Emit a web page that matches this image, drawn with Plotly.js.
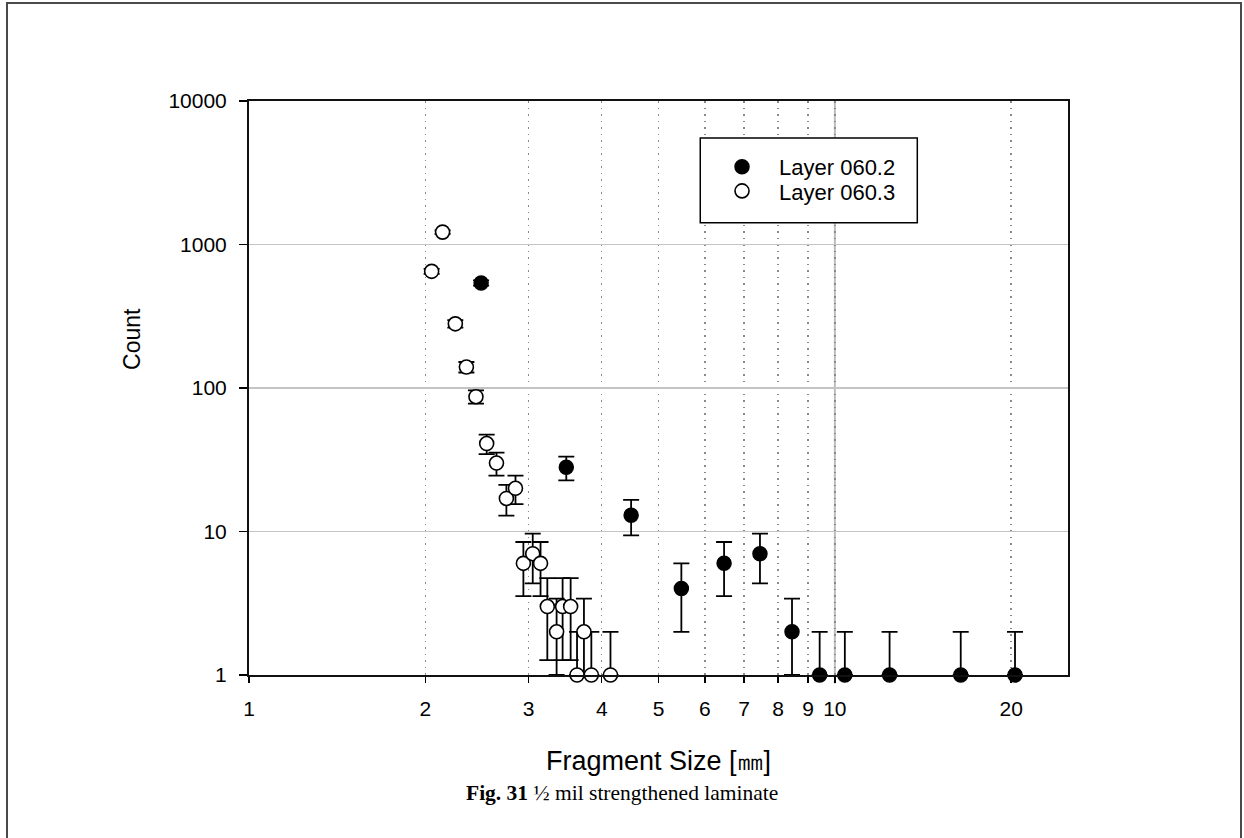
<!DOCTYPE html>
<html>
<head>
<meta charset="utf-8">
<script src="https://cdn.plot.ly/plotly-3.0.1.min.js"></script>
<style>
  html, body { margin: 0; padding: 0; background: #fff; }
  #wrap { position: relative; width: 1244px; height: 838px; }
  #chart { width: 1244px; height: 838px; }
  #frame { position: absolute; left: 6px; top: 2px; width: 1236px; height: 840px;
           border: 2px solid #4a4a4a; box-sizing: border-box; pointer-events: none; }
</style>
</head>
<body>
<div id="wrap">
  <div id="chart"></div>
  <div id="frame"></div>
</div>
<script>
// Layer 060.2 (filled circles)
const size_0602  = [2.49, 3.48, 4.49, 5.47, 6.47, 7.45, 8.45, 9.42, 10.4, 12.4, 16.4, 20.3];
const count_0602 = [540, 28, 13, 4, 6, 7, 2, 1, 1, 1, 1, 1];
const errUp_0602 = [23, 5.3, 3.6, 2, 2.45, 2.65, 1.41, 1, 1, 1, 1, 1];
const errDn_0602 = [23, 5.3, 3.6, 2, 2.45, 2.65, 1, 0, 0, 0, 0, 0];

// Layer 060.3 (open circles)
const size_0603  = [2.05, 2.14, 2.25, 2.35, 2.44, 2.545, 2.645, 2.75, 2.85, 2.94, 3.05, 3.145, 3.23, 3.35, 3.43, 3.54, 3.63, 3.73, 3.84, 4.14];
const count_0603 = [650, 1220, 280, 140, 87, 41, 30, 17, 20, 6, 7, 6, 3, 2, 3, 3, 1, 2, 1, 1];
const errUp_0603 = [25.5, 34.9, 16.7, 11.8, 9.3, 6.4, 5.5, 4.1, 4.5, 2.45, 2.65, 2.45, 1.73, 1.41, 1.73, 1.73, 1, 1.41, 1, 1];
const errDn_0603 = [25.5, 34.9, 16.7, 11.8, 9.3, 6.4, 5.5, 4.1, 4.5, 2.45, 2.65, 2.45, 1.73, 1, 1.73, 1.73, 0, 1, 0, 0];

// Axis ticks
const xTickVals = [1, 2, 3, 4, 5, 6, 7, 8, 9, 10, 20];
const xTickText = ['1', '2', '3', '4', '5', '6', '7', '8', '9', '10', '20'];
const yTickVals = [1, 10, 100, 1000, 10000];
const yTickText = ['1', '10', '100', '1000', '10000'];

const names = ['Layer 060.2', 'Layer 060.3'];
const xTitle = 'Fragment Size [㎜]';
const yTitle = 'Count';
const caption = '<b>Fig. 31</b> ½ mil strengthened laminate';

const FONT = 'Liberation Sans, Arial, sans-serif';

const traces = [
  {
    x: size_0602, y: count_0602, name: names[0], type: 'scatter', mode: 'markers',
    cliponaxis: false, legend: 'legend',
    marker: { symbol: 'circle', size: 14, color: '#000', line: { color: '#000', width: 1.5 } },
    error_y: { type: 'data', symmetric: false, array: errUp_0602, arrayminus: errDn_0602,
               color: '#000', thickness: 1.8, width: 8 }
  },
  {
    x: size_0603, y: count_0603, name: names[1], type: 'scatter', mode: 'markers',
    cliponaxis: false, legend: 'legend2',
    marker: { symbol: 'circle', size: 14, color: '#fff', line: { color: '#000', width: 1.6 } },
    error_y: { type: 'data', symmetric: false, array: errUp_0603, arrayminus: errDn_0603,
               color: '#000', thickness: 1.8, width: 8 }
  }
];

const legendBase = {
  xanchor: 'left', yanchor: 'middle',
  bgcolor: 'rgba(0,0,0,0)', borderwidth: 0,
  font: { family: FONT, size: 22, color: '#000' },
  itemwidth: 64
};

const layout = {
  width: 1244, height: 838,
  margin: { l: 249, r: 176, t: 101, b: 163 },
  paper_bgcolor: '#fff', plot_bgcolor: '#fff',
  font: { family: FONT, color: '#000', size: 21 },
  showlegend: true,
  legend: Object.assign({}, legendBase, { x: 0.5568, y: 0.885 }),
  legend2: Object.assign({}, legendBase, { x: 0.5568, y: 0.843 }),
  xaxis: {
    type: 'log', range: [0, Math.log10(25)],
    tickmode: 'array', tickvals: xTickVals, ticktext: xTickText,
    ticks: 'outside', ticklen: 6, tickwidth: 1.5, tickcolor: '#000',
    ticklabelstandoff: 8,
    tickfont: { family: FONT, size: 21, color: '#000' },
    showline: true, linecolor: '#111', linewidth: 2, mirror: true,
    showgrid: true, gridcolor: '#8a8a8a', griddash: '1.5px,5px', gridwidth: 1.5,
    zeroline: false,
    title: { text: xTitle, font: { family: FONT, size: 27, color: '#000' }, standoff: 32 }
  },
  yaxis: {
    type: 'log', range: [0, 4],
    tickmode: 'array', tickvals: yTickVals, ticktext: yTickText,
    ticks: 'outside', ticklen: 8, tickwidth: 1.5, tickcolor: '#000',
    ticklabelstandoff: 8,
    tickfont: { family: FONT, size: 21, color: '#000' },
    showline: true, linecolor: '#111', linewidth: 2, mirror: true,
    showgrid: true, gridcolor: '#c4c4c4', gridwidth: 1.5,
    zeroline: false
  },
  shapes: [
    { type: 'line', xref: 'x', yref: 'paper', x0: 10, x1: 10, y0: -0.015, y1: 1,
      line: { color: '#bdbdbd', width: 2 }, layer: 'below' },
    { type: 'rect', xref: 'paper', yref: 'paper', x0: 0.551, x1: 0.816, y0: 0.788, y1: 0.9355,
      line: { color: '#000', width: 1.5 }, fillcolor: '#fff', layer: 'above' }
  ],
  annotations: [
    { xref: 'paper', yref: 'paper', x: -0.1429, y: 0.5854, xanchor: 'center', yanchor: 'middle',
      showarrow: false, textangle: -90, text: yTitle,
      font: { family: FONT, size: 23, color: '#000' } },
    { xref: 'paper', yref: 'paper', x: 0.4554, y: -0.2056, xanchor: 'center', yanchor: 'middle',
      showarrow: false, text: caption,
      font: { family: 'Liberation Serif, Times New Roman, serif', size: 21.5, color: '#000' } }
  ]
};

Plotly.newPlot('chart', traces, layout, { displayModeBar: false, staticPlot: true });
</script>
</body>
</html>
